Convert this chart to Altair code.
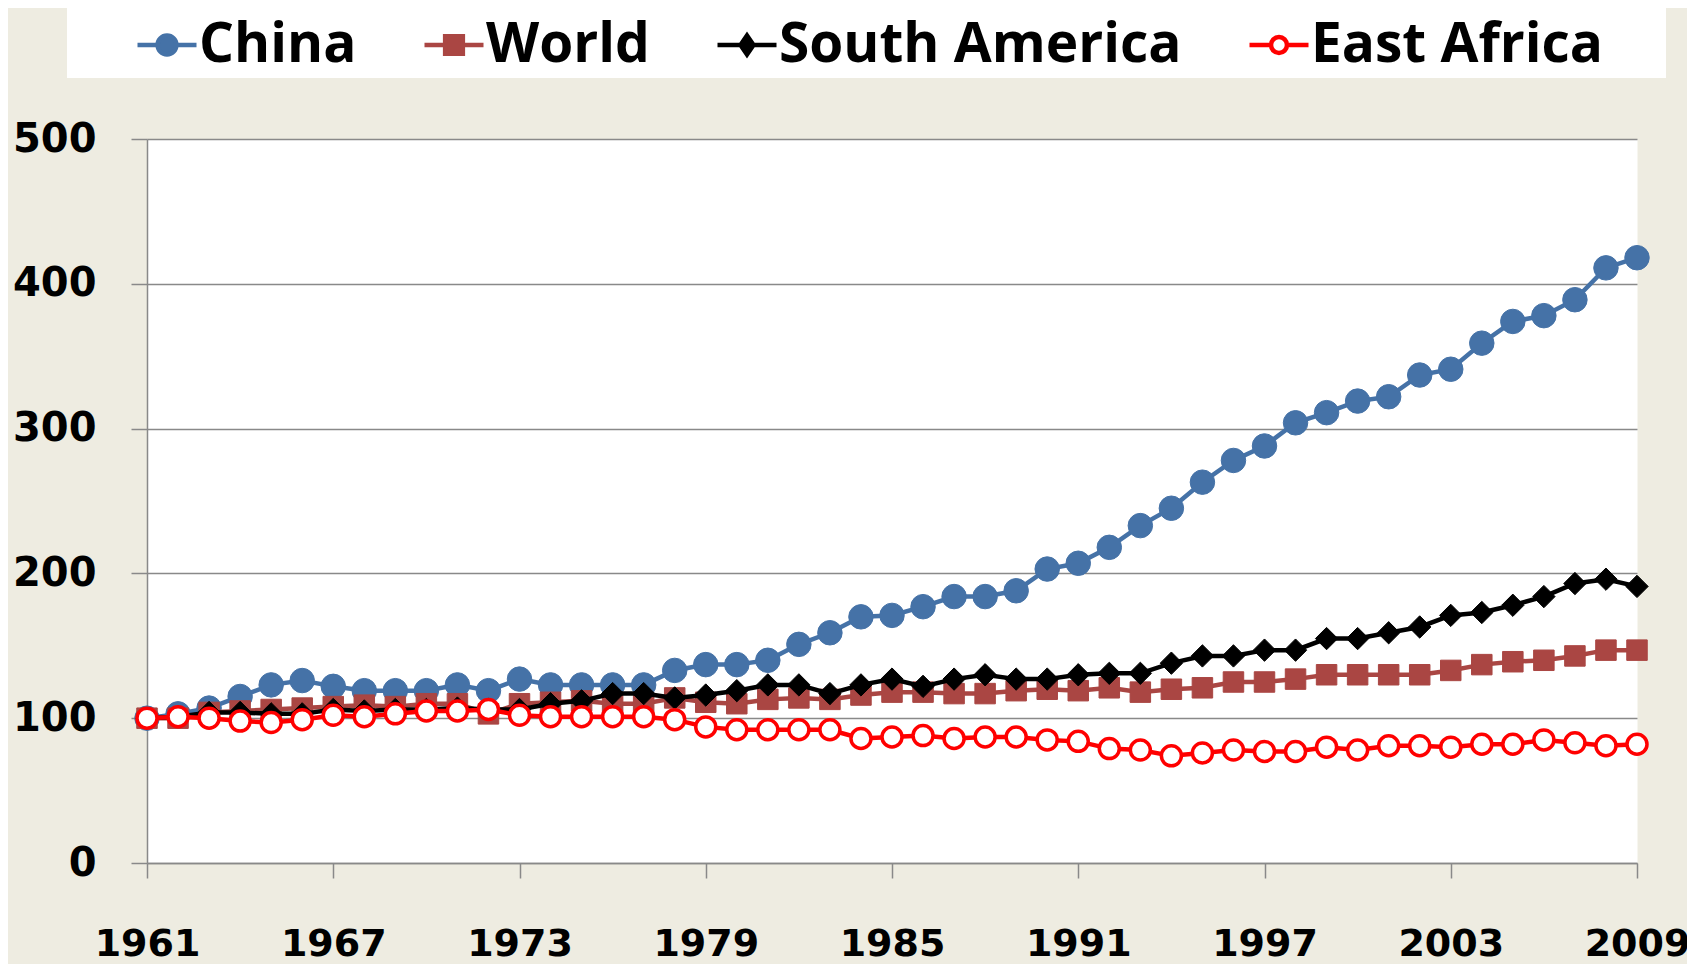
import altair as alt
import pandas as pd

years = list(range(1961, 2010))
china = [100, 103, 107, 115, 123, 126, 122, 119, 119, 119,
         123, 119, 127, 123, 123, 123, 123, 133, 137, 137,
         140, 151, 159, 170, 171, 177, 184, 184, 188, 203,
         207, 218, 233, 245, 263, 278, 288, 304, 311, 319,
         322, 337, 341, 359, 374, 378, 389, 411, 418]
world = [100, 100, 104, 105, 106, 107, 108, 109, 108, 110,
         110, 103, 110, 111, 112, 110, 110, 114, 111, 110,
         113, 114, 113, 116, 118, 118, 117, 117, 119, 120,
         119, 121, 118, 120, 121, 125, 125, 127, 130, 130,
         130, 130, 133, 137, 139, 140, 143, 147, 147]
south_america = [100, 101, 104, 104, 103, 103, 106, 105, 106, 106,
                 107, 106, 106, 110, 112, 117, 117, 114, 116, 119,
                 123, 123, 117, 123, 127, 122, 127, 130, 127, 127,
                 130, 131, 131, 138, 143, 143, 147, 147, 155, 155,
                 159, 163, 171, 173, 178, 184, 193, 196, 191]
east_africa = [100, 101, 100, 98, 97, 99, 102, 101, 103, 105,
               105, 106, 102, 101, 101, 101, 101, 99, 94, 92,
               92, 92, 92, 86, 87, 88, 86, 87, 87, 85,
               84, 79, 78, 74, 76, 78, 77, 77, 80, 78,
               81, 81, 80, 82, 82, 85, 83, 81, 82]

series = ["China", "World", "South America", "East Africa"]
colors = ["#4572A7", "#AA4643", "#000000", "#FF0000"]
fills = ["#4572A7", "#AA4643", "#000000", "#FFFFFF"]
x_ticks = [1961, 1967, 1973, 1979, 1985, 1991, 1997, 2003, 2009]
y_ticks = [0, 100, 200, 300, 400, 500]

rows = []
for s, vals in zip(series, [china, world, south_america, east_africa]):
    for yr, v in zip(years, vals):
        rows.append({"year": yr, "value": v, "series": s})
df = pd.DataFrame(rows)

# marker styles per series
marker = {
    "China": dict(shape="circle", size=600, strokeWidth=1),
    "World": dict(shape="square", size=420, strokeWidth=1),
    "South America": dict(shape="diamond", size=500, strokeWidth=1),
    "East Africa": dict(shape="circle", size=400, strokeWidth=3.5),
}

# legend symbols: short line with the marker in the middle
CN_SYM = "M-1,0H-0.32M0.32,0A0.32,0.32 0 1,1 -0.32,0A0.32,0.32 0 1,1 0.32,0ZM0.32,0H1"
WD_SYM = "M-1,0H-0.3M-0.3,-0.3H0.3V0.3H-0.3ZM0.3,0H1"
SA_SYM = "M-1,0H-0.22M0,-0.32L0.22,0L0,0.32L-0.22,0ZM0.22,0H1"
EA_SYM = "M-1,0H-0.27M0.27,0A0.27,0.27 0 1,1 -0.27,0A0.27,0.27 0 1,1 0.27,0ZM0.27,0H1"
legend_shapes = [CN_SYM, WD_SYM, SA_SYM, EA_SYM]

# trailing no-break spaces (kept by a zero-width space) widen the white legend box on the right
legend = alt.Legend(
    orient="none", legendX=-80, legendY=-131, direction="horizontal", columns=4,
    title=" ", titleOrient="left", titlePadding=63, titleFontSize=10,
    fillColor="white", padding=5,
    labelFont="Open Sans", labelFontWeight="bold", labelFontSize=55, labelColor="black",
    labelLimit=1000, labelOffset=0,
    labelExpr="datum.label == 'East Africa' ? datum.label + '\u00a0\u00a0\u00a0\u00a0\u200b' : datum.label",
    columnPadding=58, symbolSize=3481, symbolStrokeWidth=4.5, symbolOpacity=1,
)

x_enc = alt.X(
    "year:Q",
    scale=alt.Scale(domain=[1961, 2009], nice=False, zero=False),
    axis=alt.Axis(values=x_ticks, format="d", title=None, grid=False, tickSize=15,
                  labelPadding=47, labelFontSize=38, labelFlush=False, labelOverlap=False),
)
y_enc = alt.Y(
    "value:Q",
    scale=alt.Scale(domain=[0, 500], nice=False),
    axis=alt.Axis(values=y_ticks, title=None, grid=True, tickSize=16, labelPadding=35),
)

layers = []
for s, c, f in zip(series, colors, fills):
    base = alt.Chart(df).transform_filter(alt.datum.series == s)
    layers.append(base.mark_line(stroke=c, strokeWidth=4.5).encode(x=x_enc, y=y_enc))
    m = marker[s]
    layers.append(
        base.mark_point(filled=True, opacity=1, shape=m["shape"], size=m["size"],
                        fill=f, stroke=c, strokeWidth=m["strokeWidth"])
        .encode(x=x_enc, y=y_enc)
    )

# invisible layer that only feeds the legend (line + marker symbols)
legend_layer = (
    alt.Chart(df)
    .transform_filter(alt.datum.year == 1961)
    .mark_point(filled=True, opacity=0)
    .encode(
        x=x_enc, y=y_enc,
        stroke=alt.Stroke("series:N", scale=alt.Scale(domain=series, range=colors), legend=legend),
        fill=alt.Fill("series:N", scale=alt.Scale(domain=series, range=fills), legend=legend),
        shape=alt.Shape("series:N", scale=alt.Scale(domain=series, range=legend_shapes), legend=legend),
    )
)
layers.append(legend_layer)

chart = (
    alt.layer(*layers)
    .properties(
        width=1490, height=724, background="#EEECE1",
        autosize=alt.AutoSizeParams(type="none"),
        padding={"left": 139, "top": 131, "right": 50, "bottom": 101},
    )
    .configure_view(fill="white", stroke="transparent")
    .configure_axis(
        labelFont="DejaVu Sans", labelFontWeight="bold", labelFontSize=40, labelColor="black",
        domainColor="#898989", domainWidth=1.5, tickColor="#898989", tickWidth=1.5,
        gridColor="#898989", gridWidth=1.5,
    )
)

chart.save("out.html", embed_options={"renderer": "svg", "actions": False})
